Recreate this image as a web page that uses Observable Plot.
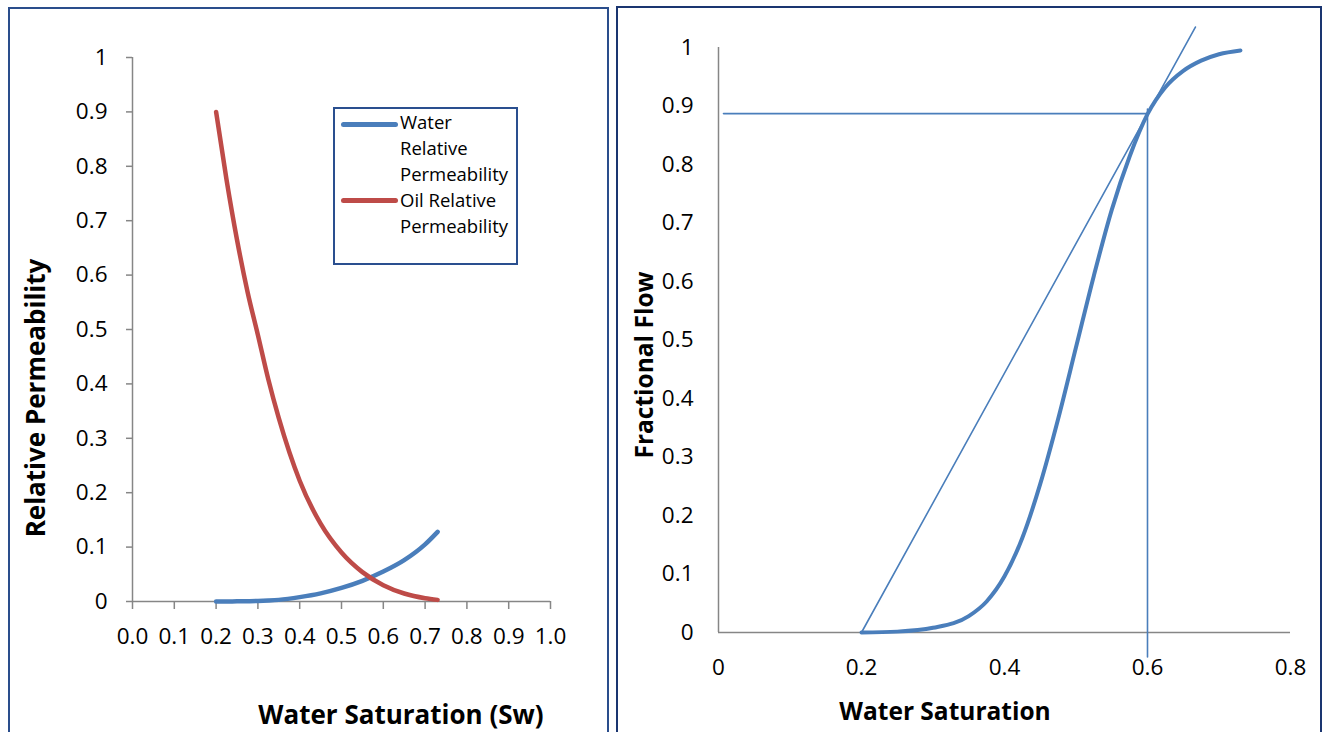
<!DOCTYPE html>
<html><head><meta charset="utf-8">
<script src="https://cdn.jsdelivr.net/npm/d3@7"></script>
<script src="https://cdn.jsdelivr.net/npm/@observablehq/plot@0.6"></script>
<style>
html,body{margin:0;padding:0;background:#fff;}
#root{position:relative;width:1322px;height:732px;overflow:hidden;font-family:"Open Sans",sans-serif;color:#000;}
.panel{position:absolute;box-sizing:border-box;background:transparent;z-index:2;pointer-events:none;}
.chart{position:absolute;top:0;}
.chart g[aria-label="x-axis tick label"], .chart g[aria-label="y-axis tick label"]{font-size:22.5px !important;}
.title{position:absolute;font-weight:bold;white-space:nowrap;transform:translate(-50%,-50%);z-index:3;}
.ytitle{transform:translate(-50%,-50%) rotate(-90deg);}
#legend{position:absolute;left:333px;top:107px;width:185px;height:158px;box-sizing:border-box;border:2px solid #2a4f8f;background:#fff;z-index:3;}
#legend .ln{position:absolute;left:6px;width:57px;height:5px;border-radius:3px;}
#legend .tx{position:absolute;left:65px;top:0;font-size:18.5px;line-height:26px;white-space:nowrap;}
</style></head><body><div id="root"></div>
<script>
// ---- Left chart: relative permeability ----
const krSw = [0.20, 0.225, 0.25, 0.275, 0.30, 0.325, 0.35, 0.40, 0.45, 0.50, 0.55, 0.60, 0.65, 0.70, 0.73];
const krw  = [0, 0.0001, 0.0003, 0.0006, 0.001, 0.0018, 0.003, 0.008, 0.015, 0.025, 0.038, 0.055, 0.076, 0.105, 0.128];
const kro  = [0.900, 0.775, 0.665, 0.570, 0.490, 0.408, 0.337, 0.222, 0.143, 0.090, 0.054, 0.030, 0.0147, 0.006, 0.003];
const leftXTicks = [0, 0.1, 0.2, 0.3, 0.4, 0.5, 0.6, 0.7, 0.8, 0.9, 1.0];
const yTicks = [0, 0.1, 0.2, 0.3, 0.4, 0.5, 0.6, 0.7, 0.8, 0.9, 1];

// ---- Right chart: fractional flow ----
const fwSw = [0.20, 0.25, 0.30, 0.35, 0.375, 0.40, 0.425, 0.45, 0.475, 0.50, 0.525, 0.55, 0.575, 0.60, 0.625, 0.65, 0.675, 0.70, 0.73];
const fw   = [0, 0.0015, 0.008, 0.028, 0.053, 0.096, 0.162, 0.254, 0.365, 0.4875, 0.61, 0.7225, 0.8137, 0.886, 0.932, 0.960, 0.9775, 0.9885, 0.995];
const tangentSw = [0.20, 0.667];
const tangentF  = [0, 1.035];
const hLineSw = [0.007, 0.60];
const hLineF  = [0.887, 0.887];
const vLineSw = [0.60, 0.60];
const vLineF  = [0.895, -0.042];
const rightXTicks = [0, 0.2, 0.4, 0.6, 0.8];

const BLUE = "#4a7ebb", RED = "#be4b48", AXIS = "#868686";
const yFmt = d => String(+d.toFixed(1));
const pts = (xs, ys) => xs.map((x, i) => ({x, y: ys[i]}));

const root = document.getElementById("root");

const left = Plot.plot({
  width: 610, height: 732,
  marginLeft: 132, marginRight: 60, marginTop: 57, marginBottom: 131,
  x: {domain: [0, 1]}, y: {domain: [0, 1]},
  style: {fontFamily: "Open Sans", fontSize: "22.5px", background: "transparent", color: "#000", overflow: "visible"},
  marks: [
    Plot.axisX({ticks: leftXTicks, tickFormat: d => d.toFixed(1), tickSize: 8, tickPadding: 19, stroke: AXIS, strokeWidth: 1.5, strokeOpacity: 1, label: null, fontSize: 22.5}),
    Plot.axisY({ticks: yTicks, tickFormat: yFmt, tickSize: 6, tickPadding: 19, stroke: AXIS, strokeWidth: 1.5, strokeOpacity: 1, label: null, fontSize: 22.5}),
    Plot.ruleY([0], {stroke: AXIS, strokeWidth: 1.5}),
    Plot.ruleX([0], {stroke: AXIS, strokeWidth: 1.5}),
    Plot.line(pts(krSw, krw), {x: "x", y: "y", stroke: BLUE, strokeWidth: 4.5, curve: "monotone-x", strokeLinecap: "round"}),
    Plot.line(pts(krSw, kro), {x: "x", y: "y", stroke: RED, strokeWidth: 4.5, curve: "monotone-x", strokeLinecap: "round"})
  ]
});
left.classList.add("chart");
left.style.left = "0px";
root.appendChild(left);

const right = Plot.plot({
  width: 710, height: 732,
  marginLeft: 106, marginRight: 32, marginTop: 47, marginBottom: 100,
  x: {domain: [0, 0.8]}, y: {domain: [0, 1]},
  style: {fontFamily: "Open Sans", fontSize: "22.5px", background: "transparent", color: "#000", overflow: "visible"},
  marks: [
    Plot.axisX({ticks: rightXTicks, tickFormat: d => String(d), tickSize: 0, tickPadding: 27, label: null, fontSize: 22.5}),
    Plot.axisY({ticks: yTicks, tickFormat: yFmt, tickSize: 0, tickPadding: 25, label: null, fontSize: 22.5}),
    Plot.ruleY([0], {stroke: AXIS, strokeWidth: 1.5}),
    Plot.ruleX([0], {stroke: AXIS, strokeWidth: 1.5}),
    Plot.line(pts(hLineSw, hLineF), {x: "x", y: "y", stroke: BLUE, strokeWidth: 1.6}),
    Plot.line(pts(vLineSw, vLineF), {x: "x", y: "y", stroke: BLUE, strokeWidth: 1.6}),
    Plot.line(pts(tangentSw, tangentF), {x: "x", y: "y", stroke: BLUE, strokeWidth: 1.6}),
    Plot.line(pts(fwSw, fw), {x: "x", y: "y", stroke: BLUE, strokeWidth: 4, curve: "monotone-x", strokeLinecap: "round"})
  ]
});
right.classList.add("chart");
right.style.left = "612px";
root.appendChild(right);

// panel borders
const p1 = document.createElement("div");
p1.className = "panel";
Object.assign(p1.style, {left: "8px", top: "7px", width: "601px", height: "800px", border: "2px solid #2a4d8c"});
root.appendChild(p1);
const p2 = document.createElement("div");
p2.className = "panel";
Object.assign(p2.style, {left: "616px", top: "6px", width: "706px", height: "800px", border: "2px solid #1a3570"});
root.appendChild(p2);

// axis titles
function title(text, x, y, rot, size) {
  const d = document.createElement("div");
  d.className = "title" + (rot ? " ytitle" : "");
  d.textContent = text;
  d.style.left = x + "px"; d.style.top = y + "px"; d.style.fontSize = size + "px";
  root.appendChild(d);
}
title("Relative Permeability", 35, 398, true, 26);
title("Water Saturation (Sw)", 401, 714, false, 26);
title("Fractional Flow", 643, 365, true, 24.5);
title("Water Saturation", 945, 710, false, 24.5);

// legend
const lg = document.createElement("div");
lg.id = "legend";
lg.innerHTML =
  `<div class="ln" style="top:12.5px;background:${BLUE}"></div>` +
  `<div class="ln" style="top:88.5px;background:${RED}"></div>` +
  `<div class="tx">Water<br>Relative<br>Permeability<br>Oil Relative<br>Permeability</div>`;
root.appendChild(lg);
</script>
</body></html>
